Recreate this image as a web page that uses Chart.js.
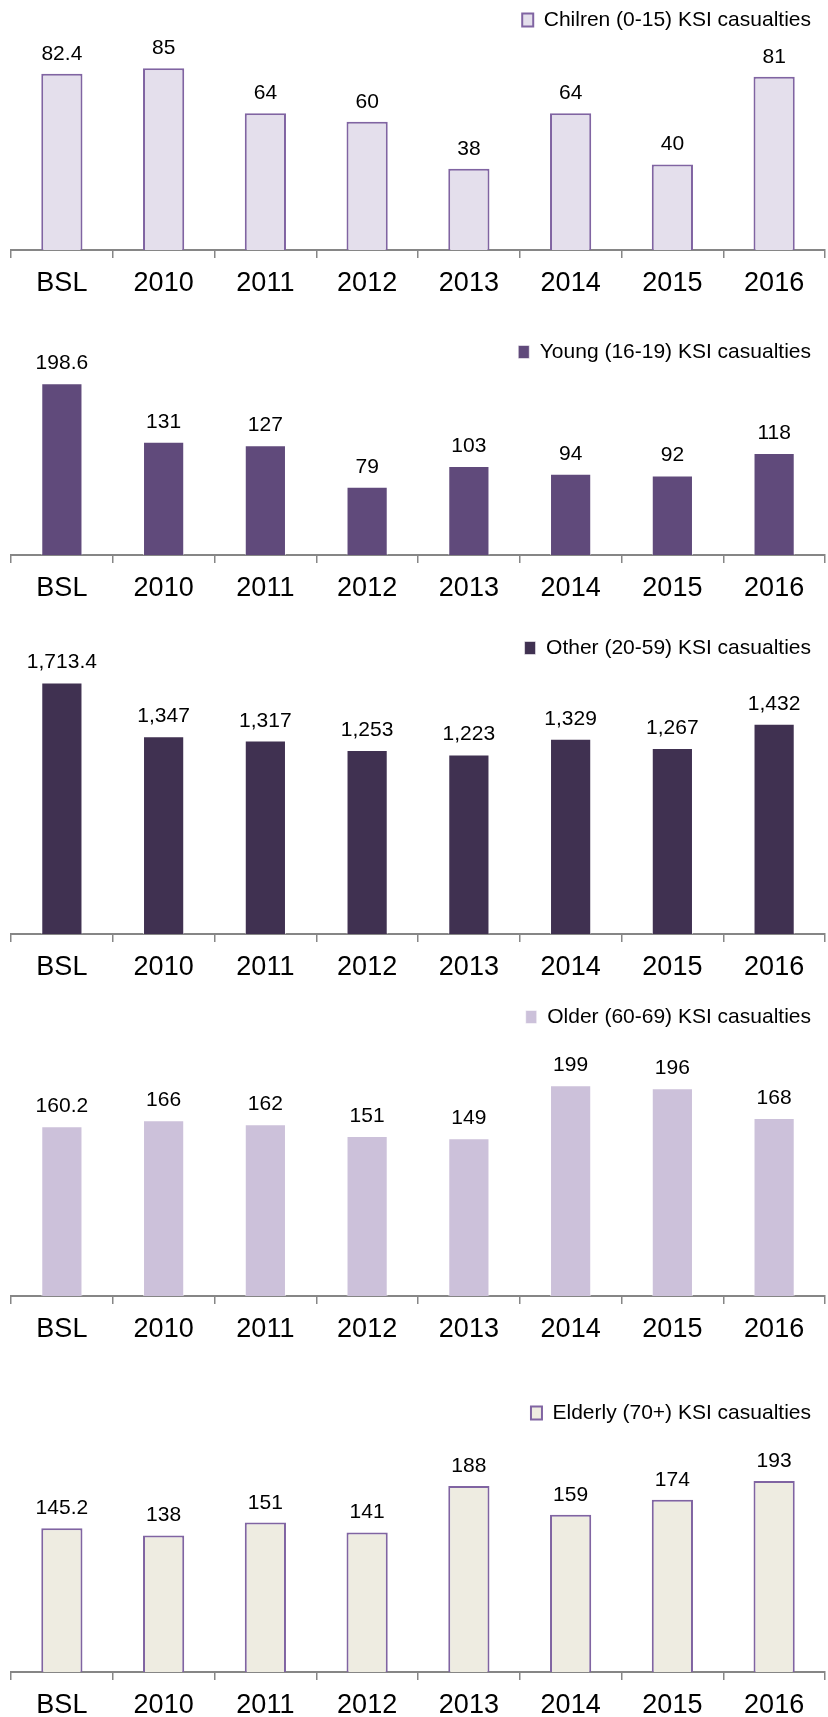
<!DOCTYPE html>
<html>
<head>
<meta charset="utf-8">
<script src="https://cdn.jsdelivr.net/npm/chart.js@4/dist/chart.umd.min.js"></script>
<style>
  html, body { margin: 0; padding: 0; background: #fff; overflow: hidden; }
  #wrap { position: relative; width: 828px; height: 1717px; }
  .panel { position: absolute; left: 0; width: 828px; }
</style>
</head>
<body>
<div id="wrap">
  <div class="panel" style="top:-6px;height:302px"><canvas id="c-children"></canvas></div>
  <div class="panel" style="top:320px;height:281px"><canvas id="c-young"></canvas></div>
  <div class="panel" style="top:610px;height:370px"><canvas id="c-other"></canvas></div>
  <div class="panel" style="top:985px;height:357px"><canvas id="c-older"></canvas></div>
  <div class="panel" style="top:1380px;height:338px"><canvas id="c-elderly"></canvas></div>
</div>
<script>
const years = ['BSL', '2010', '2011', '2012', '2013', '2014', '2015', '2016']

const children = [82.4, 85, 64, 60, 38, 64, 40, 81]
const young = [198.6, 131, 127, 79, 103, 94, 92, 118]
const other = [1713.4, 1347, 1317, 1253, 1223, 1329, 1267, 1432]
const older = [160.2, 166, 162, 151, 149, 199, 196, 168]
const elderly = [145.2, 138, 151, 141, 188, 159, 174, 193]

const FONT = '"Liberation Sans", Arial, sans-serif'

// writes each bar's value just above it
const valueLabels = {
    id: 'valueLabels',
    afterDatasetsDraw(chart) {
        let ctx = chart.ctx
        ctx.save()
        ctx.font = '21px ' + FONT
        ctx.fillStyle = '#000'
        ctx.textAlign = 'center'
        ctx.textBaseline = 'alphabetic'
        let meta = chart.getDatasetMeta(0)
        let data = chart.data.datasets[0].data
        meta.data.forEach((bar, i) => {
            let txt = data[i].toLocaleString('en-US', {maximumFractionDigits: 1})
            ctx.fillText(txt, bar.x, bar.y - 14)
        })
        ctx.restore()
    }
}

function makeChart(id, label, values, fill, border, borderWidth, yMax, padTop) {
    let ctx = document.getElementById(id).getContext('2d')
    return new Chart(ctx, {
        type: 'bar',
        data: {
            labels: years,
            datasets: [{
                label: label,
                data: values,
                backgroundColor: fill,
                borderColor: border,
                borderWidth: borderWidth,
                borderSkipped: 'bottom',
                categoryPercentage: 1,
                barPercentage: 0.405
            }]
        },
        options: {
            responsive: true,
            maintainAspectRatio: false,
            animation: false,
            layout: { padding: { top: padTop, left: 11, right: 3, bottom: 0 } },
            plugins: {
                tooltip: { enabled: false },
                legend: {
                    position: 'top',
                    align: 'end',
                    labels: {
                        boxWidth: 11,
                        boxHeight: 13,
                        padding: 14,
                        color: '#000',
                        font: { family: FONT, size: 21 }
                    }
                }
            },
            scales: {
                x: {
                    afterFit: (scale) => { scale.height = 46 },
                    grid: {
                        drawOnChartArea: false,
                        drawTicks: true,
                        tickLength: 8,
                        color: '#868686',
                        lineWidth: 1.5
                    },
                    border: { display: true, color: '#868686', width: 2 },
                    ticks: {
                        color: '#000',
                        padding: 9,
                        font: { family: FONT, size: 27 }
                    }
                },
                y: {
                    display: false,
                    min: 0,
                    max: yMax
                }
            }
        },
        plugins: [valueLabels]
    })
}

makeChart('c-children', 'Chilren (0-15) KSI casualties', children, '#E4DFEC', '#8064A2', 2, 98, 1.5)
makeChart('c-young', 'Young (16-19) KSI casualties', young, '#604A7B', 'rgba(255,255,255,0.55)', 1, 211, 7.5)
makeChart('c-other', 'Other (20-59) KSI casualties', other, '#403151', 'rgba(255,255,255,0.55)', 1, 1808, 13.5)
makeChart('c-older', 'Older (60-69) KSI casualties', older, '#CCC1DA', 'rgba(255,255,255,0.55)', 1, 244, 7.5)
makeChart('c-elderly', 'Elderly (70+) KSI casualties', elderly, '#EEECE1', '#8064A2', 2, 241, 8.5)
</script>
</body>
</html>
